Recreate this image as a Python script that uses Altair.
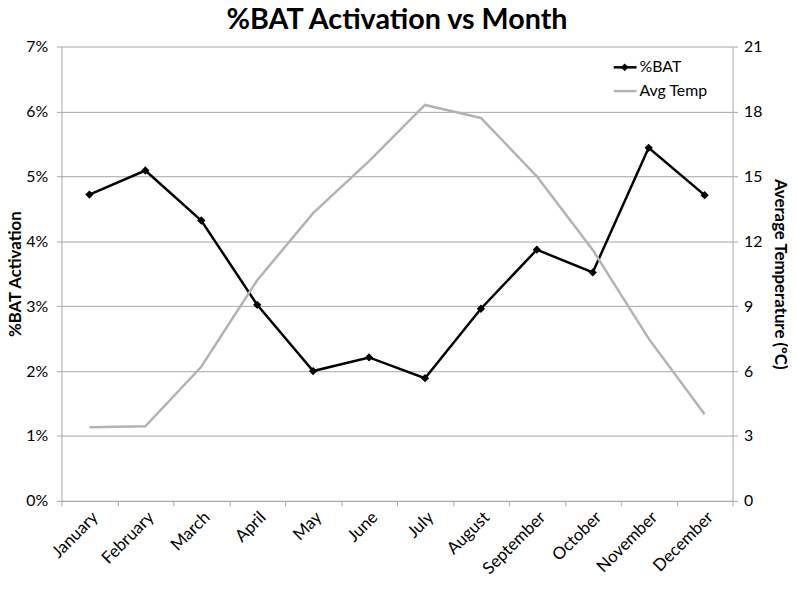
import altair as alt
import pandas as pd

months = ["January", "February", "March", "April", "May", "June", "July",
          "August", "September", "October", "November", "December"]
bat_pct = [4.72, 5.09, 4.32, 3.02, 2.00, 2.21, 1.89, 2.96, 3.87, 3.52, 5.44, 4.71]
avg_temp = [3.4, 3.45, 6.2, 10.2, 13.3, 15.7, 18.3, 17.7, 15.0, 11.6, 7.5, 4.0]

df = pd.DataFrame({"Month": months, "BAT": [v / 100 for v in bat_pct], "Temp": avg_temp})

FONT = "Lato"
GRID = "#a6a6a6"

x_enc = alt.X(
    "Month:N", sort=months, bandPosition=0.5,
    scale=alt.Scale(type="band", paddingInner=0, paddingOuter=0),
    axis=alt.Axis(title=None, labelAngle=-45, tickBand="extent", grid=False,
                  domainColor=GRID, tickColor=GRID, tickSize=5,
                  labelFont=FONT, labelFontSize=17, labelColor="black", labelPadding=3),
)

base = alt.Chart(df)

bat_axis = alt.Axis(title="%BAT Activation", format=".0%", values=[i / 100 for i in range(8)],
                    grid=True, gridColor=GRID, domainColor=GRID, tickColor=GRID, tickSize=5,
                    labelFont=FONT, labelFontSize=16, labelColor="black", labelPadding=9,
                    titleFont=FONT, titleFontSize=17, titleFontWeight="bold", titleColor="black",
                    titlePadding=1)
bat_y = alt.Y("BAT:Q", scale=alt.Scale(domain=[0, 0.07]), axis=bat_axis)

bat_line = base.mark_line(color="black", strokeWidth=2.5).encode(x=x_enc, y=bat_y)
bat_pts = base.mark_point(shape="diamond", filled=True, color="black", size=70, opacity=1).encode(x=x_enc, y=bat_y)

temp_axis = alt.Axis(title="Average Temperature (ºC)", orient="right", values=list(range(0, 22, 3)),
                     grid=False, domainColor=GRID, tickColor=GRID, tickSize=5,
                     labelFont=FONT, labelFontSize=16, labelColor="black", labelPadding=6,
                     titleFont=FONT, titleFontSize=17, titleFontWeight="bold", titleColor="black",
                     titlePadding=9)
temp_line = base.mark_line(color="#b3b3b3", strokeWidth=2.5).encode(
    x=x_enc, y=alt.Y("Temp:Q", scale=alt.Scale(domain=[0, 21]), axis=temp_axis))

leg = alt.Chart(pd.DataFrame({"k": [0]}))
leg_bat_line = leg.mark_rule(color="black", strokeWidth=2.5).encode(
    x=alt.value(558), x2=alt.value(581), y=alt.value(21))
leg_bat_pt = leg.mark_point(shape="diamond", filled=True, color="black", size=60, opacity=1).encode(
    x=alt.value(569), y=alt.value(21))
leg_bat_txt = leg.mark_text(align="left", baseline="middle", font=FONT, fontSize=16, color="black").encode(
    x=alt.value(584), y=alt.value(21), text=alt.value("%BAT"))
leg_t_line = leg.mark_rule(color="#b3b3b3", strokeWidth=2.5).encode(
    x=alt.value(558), x2=alt.value(581), y=alt.value(45))
leg_t_txt = leg.mark_text(align="left", baseline="middle", font=FONT, fontSize=16, color="black").encode(
    x=alt.value(584), y=alt.value(45), text=alt.value("Avg Temp"))

chart = alt.layer(
    alt.layer(bat_line, bat_pts),
    temp_line,
    leg_bat_line, leg_bat_pt, leg_bat_txt, leg_t_line, leg_t_txt,
).resolve_scale(y="independent").properties(
    width=678, height=459,
    title=alt.TitleParams("%BAT Activation vs Month", font=FONT, fontSize=29, fontWeight="bold",
                          color="black", anchor="middle", offset=4),
    autosize=alt.AutoSizeParams(type="none"),
    padding={"left": 54, "top": 36, "right": 56, "bottom": 78},
).configure_view(stroke=None)

chart.save("out.html", embed_options={"renderer": "svg", "actions": False})
